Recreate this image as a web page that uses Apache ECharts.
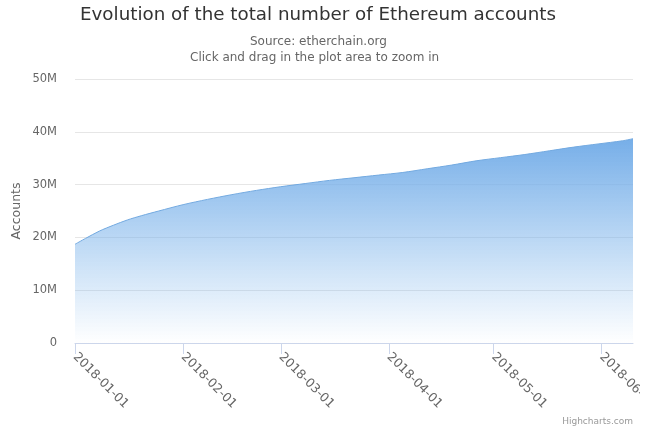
<!DOCTYPE html>
<html>
<head>
<meta charset="utf-8">
<script src="https://cdn.jsdelivr.net/npm/echarts@6/dist/echarts.min.js"></script>
<style>html,body{margin:0;padding:0;background:#fff}#c{width:640px;height:429px;overflow:hidden}</style>
</head>
<body>
<div id="c"></div>
<script>
const dates = ['2018-01-01','2018-01-04','2018-01-08','2018-01-12','2018-01-16','2018-01-20','2018-01-25',
  '2018-02-01','2018-02-08','2018-02-15','2018-02-22','2018-03-01','2018-03-08','2018-03-15','2018-03-22',
  '2018-03-29','2018-04-05','2018-04-12','2018-04-19','2018-04-26','2018-05-03','2018-05-10','2018-05-17',
  '2018-05-24','2018-05-31','2018-06-07','2018-06-10'];
const accountsM = [18.7,19.8,21.2,22.3,23.3,24.1,25.0,
  26.2,27.2,28.1,28.9,29.6,30.2,30.8,31.3,
  31.8,32.3,33.0,33.7,34.5,35.1,35.7,36.4,
  37.1,37.7,38.3,38.7];
const yTicks = [0,10,20,30,40,50];
const titleText = 'Evolution of the total number of Ethereum accounts';
const subtitleLines = ['Source: etherchain.org','Click and drag in the plot area to zoom in'];

const font = 'DejaVu Sans';
const chart = echarts.init(document.getElementById('c'));
chart.setOption({
  animation: false,
  textStyle: {fontFamily: font},
  graphic: [
    {type:'text', left: 80, top: 6, style:{text:titleText, fontSize:18.3, fill:'#333', fontFamily:font}},
    {type:'text', left: 250, top: 36, style:{text:subtitleLines[0], fontSize:12, fill:'#666', fontFamily:font}},
    {type:'text', left: 190, top: 52, style:{text:subtitleLines[1], fontSize:12, fill:'#666', fontFamily:font}},
    {type:'text', right: 7, bottom: 3, style:{text:'Highcharts.com', fontSize:9, fill:'#999', fontFamily:font}}
  ],
  grid: {left: 75, right: 7, top: 79, bottom: 86, containLabel: false, outerBoundsMode: 'none'},
  xAxis: {
    type: 'time',
    min: +new Date('2018-01-01T00:00:00Z'),
    max: +new Date('2018-06-10T00:00:00Z'),
    minInterval: 28*86400000,
    maxInterval: 31*86400000,
    axisLine: {lineStyle:{color:'#ccd6eb'}},
    axisTick: {show:true, length:11, lineStyle:{color:'#ccd6eb'}},
    splitLine: {show:false},
    axisLabel: {
      rotate: -45, color:'#666', fontSize:12.5, fontFamily:font, margin: 12,
      formatter: '{yyyy}-{MM}-{dd}', hideOverlap:false, showMinLabel:true, showMaxLabel:false
    }
  },
  yAxis: {
    type: 'value', min: 0, max: 50, interval: 10,
    name: 'Accounts', nameLocation: 'middle', nameGap: 52, nameMoveOverlap: false,
    nameTextStyle: {color:'#666', fontSize:12.5, fontFamily:font},
    axisLine: {show:false}, axisTick: {show:false},
    splitLine: {lineStyle:{color:'#e6e6e6'}},
    axisLabel: {color:'#666', fontSize:11.5, fontFamily:font, margin: 18,
      formatter: v => yTicks.includes(v) ? (v === 0 ? '0' : v + 'M') : ''}
  },
  series: [{
    type: 'line',
    data: dates.map((d,i) => [d, accountsM[i]]),
    showSymbol: false,
    smooth: 0.3,
    lineStyle: {color:'#72a9e0', width:1},
    areaStyle: {opacity: 1, color: new echarts.graphic.LinearGradient(0,0,0,1,[
      {offset:0, color:'rgba(118,174,232,1)'},
      {offset:1, color:'rgba(124,181,236,0)'}
    ])}
  }]
});
</script>
</body>
</html>
